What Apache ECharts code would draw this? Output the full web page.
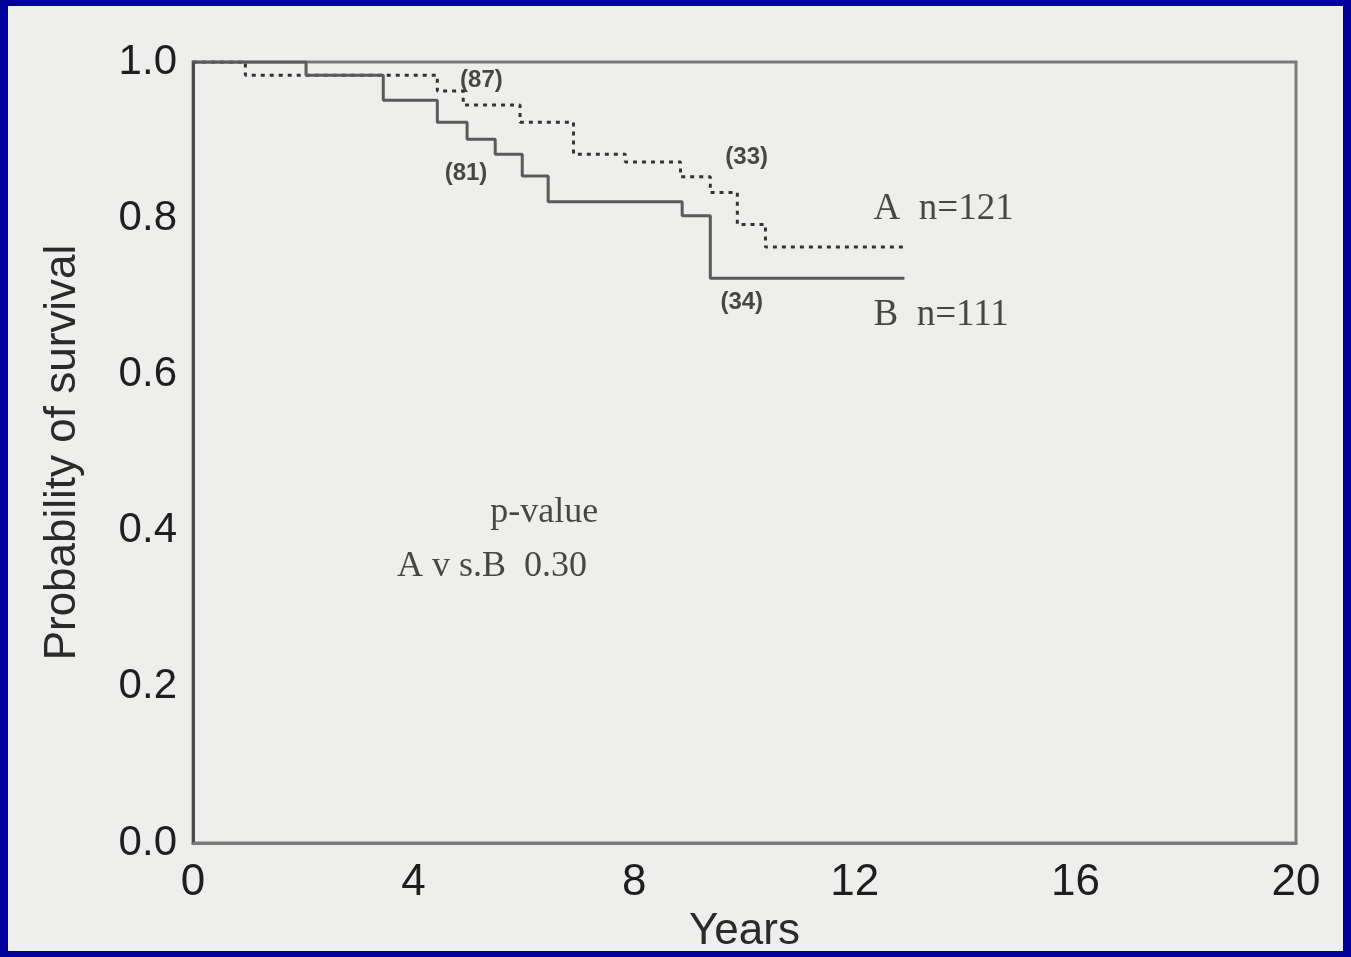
<!DOCTYPE html>
<html>
<head>
<meta charset="utf-8">
<script src="https://cdn.jsdelivr.net/npm/echarts@6/dist/echarts.min.js"></script>
<style>
  html, body { margin: 0; padding: 0; background: #00009a; width: 1351px; height: 957px; overflow: hidden; }
  #chart { position: absolute; left: 8px; top: 6px; width: 1335px; height: 945px; background: #eeeeec; }
</style>
</head>
<body>
<div id="chart"></div>
<script>
// Kaplan-Meier survival estimates (years, probability) for the two groups
const groupATimes = [0, 0.95, 4.43, 4.9, 5.93, 6.9, 7.84, 8.84, 9.38, 9.87, 10.38, 12.9];
const groupASurv  = [1.0, 0.983, 0.963, 0.945, 0.923, 0.882, 0.872, 0.853, 0.833, 0.792, 0.763, 0.763];
const groupBTimes = [0, 2.05, 3.45, 4.43, 4.97, 5.48, 5.97, 6.44, 8.87, 9.38, 12.9];
const groupBSurv  = [1.0, 0.983, 0.951, 0.923, 0.901, 0.882, 0.854, 0.821, 0.803, 0.723, 0.723];

// numbers at risk and annotation text
const atRiskText = ['(87)', '(81)', '(33)', '(34)'];
const groupLabels = ['A  n=121', 'B  n=111'];
const pValueLines = ['p-value', 'A v s.B  0.30'];

const xTicks = [0, 4, 8, 12, 16, 20];
const yTicks = [0.0, 0.2, 0.4, 0.6, 0.8, 1.0];

const chart = echarts.init(document.getElementById('chart'), null, { renderer: 'canvas' });

const pairs = (xs, ys) => xs.map((x, i) => [x, ys[i]]);

// annotation anchors in data units
const annoAnchors = [
  [5.23, 0.976], [4.95, 0.857], [10.04, 0.878], [9.95, 0.692]
];
const groupAnchors = [[12.34, 0.812], [12.34, 0.676]];
const pAnchors = [[5.39, 0.423], [3.70, 0.354]];

const textSeries = (anchors, texts, style, align) => ({
  type: 'scatter',
  symbolSize: 0,
  silent: true,
  z: 5,
  data: anchors.map((c, i) => ({ value: c, name: texts[i] })),
  label: Object.assign({
    show: true,
    position: 'inside',
    align: align,
    verticalAlign: 'middle',
    formatter: p => p.name,
    color: '#1c1c1c'
  }, style)
});

chart.setOption({
  animation: false,
  backgroundColor: 'transparent',
  grid: {
    left: 185, right: 47, top: 56, bottom: 108,
    outerBoundsMode: 'none', containLabel: false,
    show: true, borderColor: '#7a7a7a', borderWidth: 3, backgroundColor: 'transparent'
  },
  xAxis: {
    type: 'value', min: xTicks[0], max: xTicks[xTicks.length - 1], interval: 4,
    name: 'Years', nameLocation: 'middle', nameGap: 62,
    nameTextStyle: { fontFamily: 'Liberation Sans', fontSize: 44, color: '#2a2a2a' },
    axisLine: { show: true, lineStyle: { color: '#787878', width: 3 } },
    axisTick: { show: false },
    splitLine: { show: false },
    axisLabel: { fontFamily: 'Liberation Sans', fontSize: 44, color: '#1e1e1e', margin: 18,
                 formatter: v => String(v) }
  },
  yAxis: {
    type: 'value', min: 0, max: 1, interval: 0.2,
    name: 'Probability of survival', nameLocation: 'middle', nameGap: 108,
    nameTextStyle: { fontFamily: 'Liberation Sans', fontSize: 44, color: '#2a2a2a' },
    axisLine: { show: true, lineStyle: { color: '#4a4a4a', width: 3 } },
    axisTick: { show: false },
    splitLine: { show: false },
    axisLabel: { fontFamily: 'Liberation Sans', fontSize: 42, color: '#1e1e1e', margin: 16,
                 formatter: v => v.toFixed(1) }
  },
  series: [
    {
      name: 'A', type: 'line', step: 'end', showSymbol: false, z: 3,
      data: pairs(groupATimes, groupASurv),
      lineStyle: { color: '#333333', width: 3, type: [4, 5] }
    },
    {
      name: 'B', type: 'line', step: 'end', showSymbol: false, z: 3,
      data: pairs(groupBTimes, groupBSurv),
      lineStyle: { color: '#5a5a5a', width: 3 }
    },
    textSeries(annoAnchors, atRiskText,
      { fontFamily: 'Liberation Sans', fontSize: 24, fontWeight: 'bold' }, 'center'),
    textSeries(groupAnchors, groupLabels,
      { fontFamily: 'Liberation Serif', fontSize: 37, letterSpacing: 5 }, 'left'),
    textSeries(pAnchors, pValueLines,
      { fontFamily: 'Liberation Serif', fontSize: 36 }, 'left')
  ]
});
</script>
</body>
</html>
